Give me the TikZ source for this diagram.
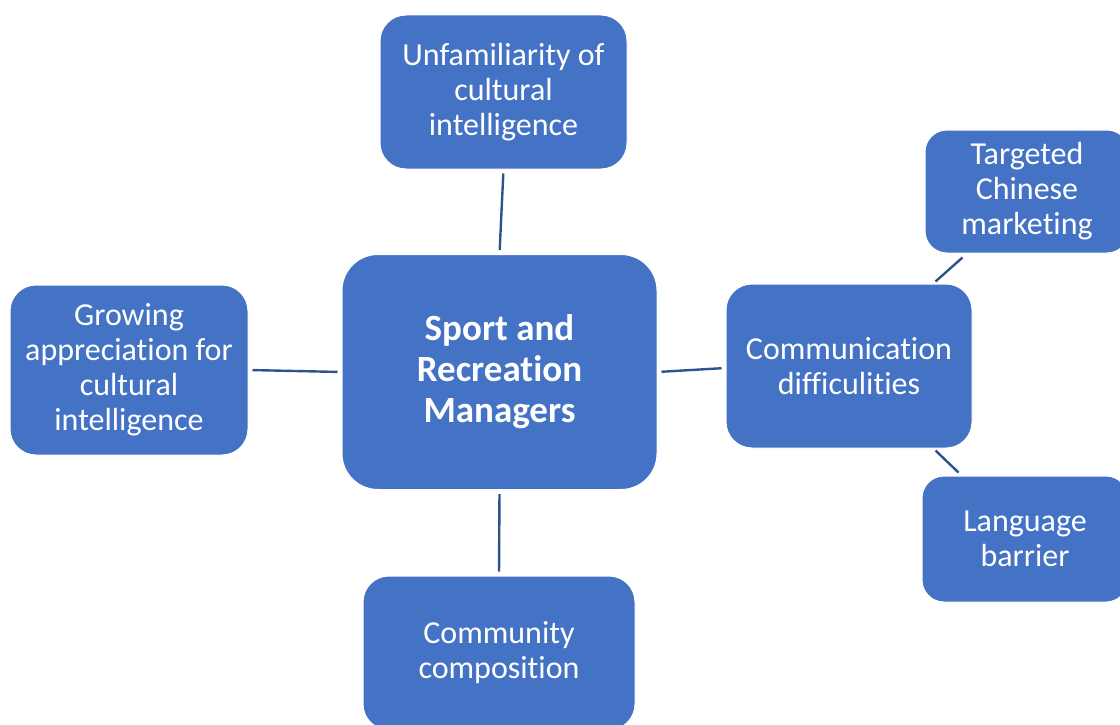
\documentclass[tikz,border=0pt]{standalone}
\usepackage{fontspec}
\setmainfont[Ligatures={NoCommon}]{Carlito}
\definecolor{boxblue}{HTML}{4472C4}
\definecolor{lineblue}{HTML}{2F528F}
\begin{document}
\begin{tikzpicture}[x=1pt,y=-1pt,
  box/.style={draw=white,line width=1pt,fill=boxblue,text=white,rounded corners=26pt,
    align=center,inner sep=0pt,font=\fontsize{32}{35}\selectfont},
  link/.style={draw=lineblue,line width=2.4pt,shorten <=4pt,shorten >=4pt}]
\useasboundingbox (0,0) rectangle (1120,725);
\node[box,minimum width=247pt,minimum height=154pt] (top) at (503.5,92) {Unfamiliarity of\\cultural\\intelligence};
\node[box,minimum width=315pt,minimum height=235pt,rounded corners=36pt,font=\fontsize{37}{41}\selectfont\bfseries] (center) at (499.5,372) {Sport and\\Recreation\\Managers};
\node[box,minimum width=238pt,minimum height=170pt] (left) at (129,370) {Growing\\appreciation for\\cultural\\intelligence};
\node[box,minimum width=246pt,minimum height=164pt] (comm) at (849,366) {Communication\\difficulities};
\node[box,minimum width=204pt,minimum height=123pt,rounded corners=22pt] (target) at (1027,191.5) {Targeted\\Chinese\\marketing};
\node[box,minimum width=206pt,minimum height=126pt,rounded corners=22pt] (lang) at (1025,539) {Language\\barrier};
\node[box,minimum width=272pt,minimum height=154pt] (bottom) at (499,653) {Community\\composition};
\draw[link] (top.south) -- (center.north);
\draw[link] (left.east) -- (center.west);
\draw[link] (center.east) -- ([yshift=-2pt]comm.west);
\draw[link] (center.south) -- (bottom.north);
\draw[link,shorten <=0pt,shorten >=0pt] ([xshift=-37pt,yshift=2pt]comm.north east) -- ([xshift=38pt,yshift=-4pt]target.south west);
\draw[link,shorten <=0pt,shorten >=0pt] ([xshift=-37pt,yshift=-2pt]comm.south east) -- ([xshift=37pt,yshift=3pt]lang.north west);
\end{tikzpicture}
\end{document}
